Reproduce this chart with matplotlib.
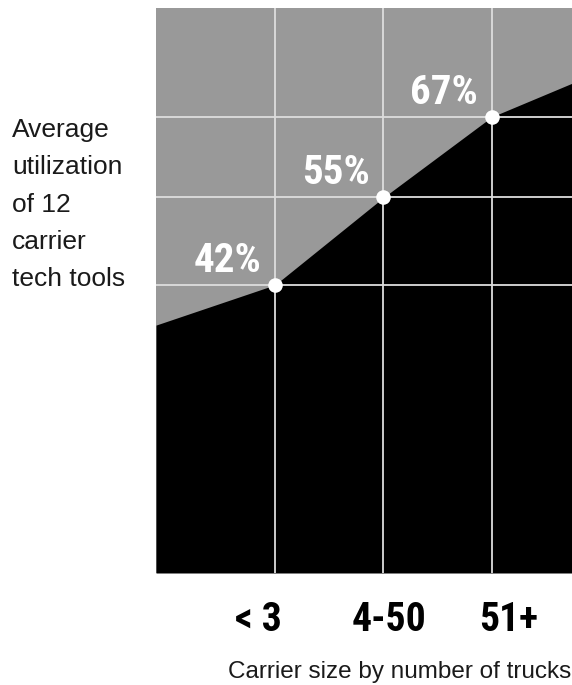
import matplotlib
matplotlib.use("Agg")
import matplotlib.pyplot as plt
import numpy as np

# utilisation moyenne par taille de transporteur
categories = ["< 3", "4-50", "51+"]
utilization = [42, 55, 67]
# valeurs de la courbe aux bords du graphique
edge_left = 36
edge_right = 72

ylabel_lines = ["Average", "utilization", "of 12", "carrier", "tech tools"]

W, H = 572, 685
DPI = 100
fig = plt.figure(figsize=(W / DPI, H / DPI), dpi=DPI)
ax = fig.add_axes([156 / W, (H - 573) / H, 416 / W, 565 / H])

xpos = np.arange(len(categories))
xmin, xmax = -1.1, 2.74
ymin, ymax = -0.9, 83.2

ax.set_xlim(xmin, xmax)
ax.set_ylim(ymin, ymax)
ax.set_facecolor("#999999")

# zone noire sous la courbe
cx = [xmin] + list(xpos) + [xmax]
cy = [edge_left] + utilization + [edge_right]
ax.fill_between(cx, cy, ymin, color="black", linewidth=0, zorder=1)

# grille blanche aux catégories et aux valeurs
ax.set_xticks(xpos)
ax.set_yticks(utilization)
ax.set_axisbelow(False)
ax.grid(True, color="#dddddd", linewidth=1.3)
ax.tick_params(length=0, labelbottom=False, labelleft=False)
for sp in ax.spines.values():
    sp.set_visible(False)

ax.plot(xpos, utilization, "o", color="white", markersize=10.5,
        markeredgewidth=0, zorder=4, clip_on=False)

bold = dict(family=["Roboto Condensed", "DejaVu Sans"], weight="bold")
for x, v in zip(xpos, utilization):
    ax.annotate(f"{v}%", (x, v), xytext=(-10, 9.5), textcoords="offset points",
                ha="right", va="baseline", color="white", fontsize=29.5, **bold)

label_dx = [-12, 4, 12]
for x, lab, dx in zip(xpos, categories, label_dx):
    ax.annotate(lab, (x, 0), xycoords=("data", "axes fraction"),
                xytext=(dx, -41.5), textcoords="offset points",
                ha="center", va="baseline", color="black", fontsize=28.5, **bold)

regular = dict(family=["Liberation Sans", "DejaVu Sans"], color="#1a1a1a")
fig.text(571 / W, 1 - 678 / H, "Carrier size by number of trucks",
         ha="right", va="baseline", fontsize=17.5, **regular)
for i, line in enumerate(ylabel_lines):
    fig.text(12 / W, 1 - (137 + 37.25 * i) / H, line,
             ha="left", va="baseline", fontsize=19, **regular)

fig.savefig("out.png", dpi=DPI)
